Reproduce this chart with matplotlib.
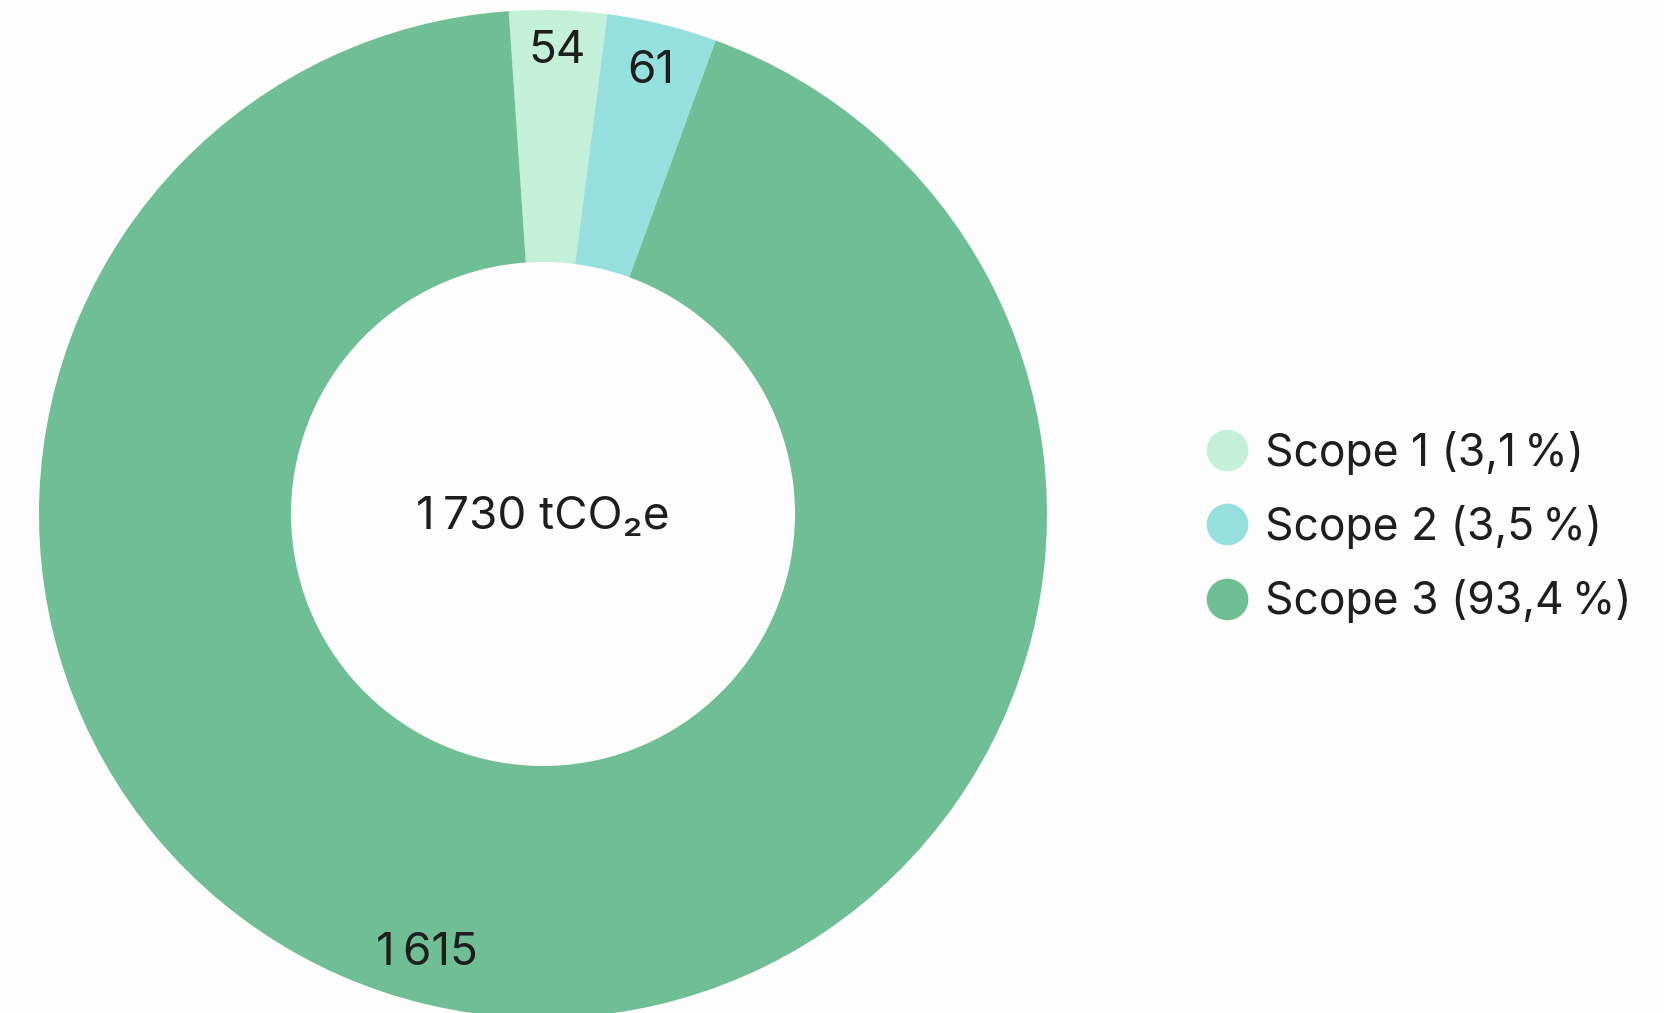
import numpy as np
import matplotlib
matplotlib.use("Agg")
import matplotlib.pyplot as plt
from matplotlib.lines import Line2D

plt.rcParams['font.family'] = ['Inter', 'DejaVu Sans']

# ---- data ----
categories = ["Scope 1", "Scope 2", "Scope 3"]
values = [54, 61, 1615]
value_labels = ["54", "61", "1\u2009615"]
legend_labels = ["Scope 1 (3,1\u2009%)", "Scope 2 (3,5\u2009%)", "Scope 3 (93,4\u2009%)"]
center_label = "1\u2009730 tCO\u2082e"

# ---- style ----
colors = ["#c4efd9", "#96dfdf", "#70be95"]
text_color = "#1e1e1e"
bg = "#fdfdfd"
label_frac = [0.5, 0.5, 0.52]   # position of label along each wedge's arc
label_r = [0.92, 0.905, 0.90]

W, H = 1664, 1013
fig = plt.figure(figsize=(W / 100, H / 100), dpi=100, facecolor=bg)
ax = fig.add_axes([0, 0, 1, 1])
ax.set_facecolor(bg)

cx, cy, R = 543, H - 514, 504
wedges, _ = ax.pie(values, colors=colors, startangle=93.9, counterclock=False,
                   center=(cx, cy), radius=R, frame=True,
                   wedgeprops=dict(width=R * 0.5, linewidth=0))
ax.set_xlim(0, W)
ax.set_ylim(0, H)
ax.set_aspect('equal')
ax.axis('off')

for w, lab, f, r in zip(wedges, value_labels, label_frac, label_r):
    t1, t2 = w.theta1, w.theta2
    ang = np.deg2rad(t2 - f * (t2 - t1))
    ax.text(cx + R * r * np.cos(ang), cy + R * r * np.sin(ang), lab,
            ha='center', va='center', fontsize=33, color=text_color)

ax.text(cx, cy - 3, center_label, ha='center', va='center', fontsize=33, color=text_color)

handles = [Line2D([0], [0], marker='o', linestyle='none', markersize=30,
                  markerfacecolor=c, markeredgewidth=0) for c in colors]
leg = fig.legend(handles, legend_labels, loc='center left',
                 bbox_to_anchor=(1205 / W, 1 - 527 / H), frameon=False,
                 fontsize=32, labelspacing=0.68, handletextpad=0.35,
                 handlelength=1.0, borderpad=0, borderaxespad=0)
for t in leg.get_texts():
    t.set_color(text_color)

fig.savefig("out.png", dpi=100, facecolor=bg)
